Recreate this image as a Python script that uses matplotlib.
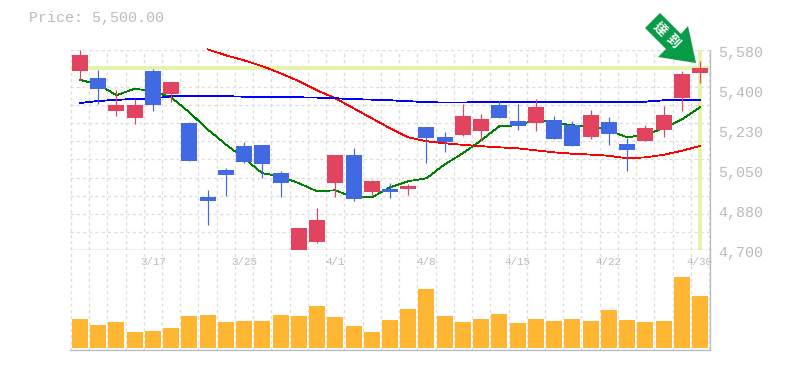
import numpy as np
import matplotlib
matplotlib.use('Agg')
import matplotlib.pyplot as plt
from matplotlib.patches import Polygon

plt.rcParams['font.family'] = ['Liberation Mono', 'DejaVu Sans']

# candles
opens = [5489,5457,5313,5282,5488,5388,5260,4933,5052,5158,5162,5039,4700,4735,4995,5118,4955,4968,4968,
         5241,5197,5206,5224,5338,5268,5259,5272,5250,5197,5263,5166,5180,5228,5369,5479]
highs = [5580,5495,5404,5366,5496,5439,5265,4964,5061,5175,5162,5048,4797,4885,5118,5149,5008,4995,4990,
         5241,5219,5342,5298,5356,5342,5364,5290,5268,5316,5285,5193,5250,5334,5488,5532]
lows = [5450,5345,5291,5256,5313,5353,5092,4810,4938,5083,5017,4933,4700,4730,4933,4916,4942,4929,4942,
        5083,5131,5202,5180,5281,5228,5224,5188,5158,5188,5162,5048,5180,5197,5312,5435]
closes = [5558,5410,5338,5338,5339,5439,5092,4916,5030,5087,5078,4995,4797,4832,5118,4924,5004,4955,4982,
          5193,5175,5290,5276,5281,5246,5329,5188,5158,5294,5210,5140,5237,5294,5474,5501]

ma_short = [5450,5430,5382,5411,5400,5373,5307,5232,5166,5105,5039,5026,4995,4960,4964,4933,4933,4977,5004,
            5017,5078,5127,5184,5246,5250,5274,5263,5250,5246,5228,5197,5208,5237,5276,5329]
ma_mid = [np.nan]*7 + [5584,5558,5536,5510,5479,5444,5404,5369,5325,5281,5237,5197,5180,5171,5164,5158,5153,
                       5149,5140,5131,5125,5121,5116,5105,5109,5120,5138,5159]
ma_long = [5348,5357,5362,5366,5367,5378,5379,5378,5378,5376,5375,5375,5373,5372,5369,5365,5363,5360,5356,
           5352,5350,5350,5353,5353,5354,5354,5354,5354,5354,5354,5354,5354,5360,5360,5363]

volume = [29,23,26,16,17,20,32,33,26,27,27,33,32,42,31,22,16,28,39,59,32,26,29,34,25,29,27,29,27,38,28,26,27,71,52]

date_pos = [4,9,14,19,24,29,34]
date_labels = ['3/17','3/25','4/1','4/8','4/15','4/22','4/30']
price_ticks = [5580,5404,5228,5052,4876,4700]
price_labels = ['5,580','5,400','5,230','5,050','4,880','4,700']
target_price = 5500

W, H = 785, 370
RED, BLUE = '#e2435f', '#4169e1'
GRID, AXIS, TEXT = '#dddddd', '#bbbbbb', '#bbbbbb'
HILITE = '#e3f3a8'
PX = 0.72  # one pixel in points
SLOT = 18.235  # pixels per candle

fig = plt.figure(figsize=(W/100, H/100), dpi=100)
ax = fig.add_axes([70.3/W, (H-250.3)/H, 639.8/W, 200/H])
vax = fig.add_axes([70.3/W, (H-350.3)/H, 639.8/W, 100/H])

x = np.arange(len(opens))
up = np.array(closes) >= np.array(opens)

for a in (ax, vax):
    a.set_xlim(-0.53, 34.555)
    a.set_xticks(np.arange(36) - 0.5)
    a.set_axisbelow(True)
    a.grid(True, axis='x', color=GRID, lw=PX*1.3, ls=(0, (2.4, 2.4)))
    a.tick_params(length=0, labelbottom=False, labelleft=False)
    for s in ('top', 'left'):
        a.spines[s].set_visible(False)
    for s in ('right', 'bottom'):
        a.spines[s].set_color(AXIS)
        a.spines[s].set_linewidth(PX*1.3)

ax.set_ylim(4700, 5580)
ax.set_yticks(np.arange(4700, 5581, 80))
ax.grid(True, axis='y', color=GRID, lw=PX*1.3, ls=(0, (2.4, 2.4)))

# target price crosshair
ax.axhline(target_price, color=HILITE, lw=3.8*PX, zorder=1.5)
ax.axvline(x[-1], color=HILITE, lw=3.8*PX, zorder=1.5)

ax.plot(x, ma_short, color='#008000', lw=PX*0.8, zorder=2, clip_on=False, antialiased=False)
ax.plot(x, ma_mid, color='#ff0000', lw=PX*0.8, zorder=2, clip_on=False, antialiased=False)
ax.plot(x, ma_long, color='#0000ff', lw=PX*0.8, zorder=2, clip_on=False, antialiased=False)

colors = [RED if u else BLUE for u in up]
ax.vlines(x, lows, highs, colors=colors, lw=PX*1.2, zorder=3)
bottoms = np.minimum(opens, closes)
heights = np.abs(np.array(closes) - np.array(opens))
ax.bar(x, heights, bottom=bottoms, width=16/SLOT, color=colors, zorder=4, lw=0)

vax.bar(x, volume, width=16/SLOT, color='#ffb733', lw=0, zorder=3)
vax.set_ylim(-2, 98)

# labels
fig.text(29/W, 1-18/H, 'Price: 5,500.00', color=TEXT, fontsize=10.8, va='center', ha='left')
for p, lab in zip(price_ticks, price_labels):
    ax.annotate(lab, xy=(1, p), xycoords=('axes fraction', 'data'), xytext=(5.8, -1.8),
                textcoords='offset points', color=TEXT, fontsize=10.8, va='center', ha='left',
                annotation_clip=False)
for p, lab in zip(date_pos, date_labels):
    vax.annotate(lab, xy=(p, 1), xycoords=('data', 'axes fraction'), xytext=(0, -8.6),
                 textcoords='offset points', color=TEXT, fontsize=7.8, va='center', ha='center',
                 annotation_clip=False)

# signal arrow, in figure pixels
arrow_px = np.array([[660,13],[681,34],[688,26],[696,63],[658,57],[666,49],[645,28]], dtype=float)
arrow_px = arrow_px / [W, H]
arrow_px[:, 1] = 1 - arrow_px[:, 1]
fig.add_artist(Polygon(arrow_px, closed=True, transform=fig.transFigure, color='#089b48', lw=0, zorder=6))
for (px, py), ch in zip([(660, 29), (673, 41)], ['達', '到']):
    fig.text(px/W, 1-py/H, ch, color='white', fontsize=9.5, fontweight='bold', rotation=-45,
             rotation_mode='anchor', va='center', ha='center', family=['Noto Sans CJK TC', 'DejaVu Sans'], zorder=7)

fig.savefig('out.png', dpi=100)
